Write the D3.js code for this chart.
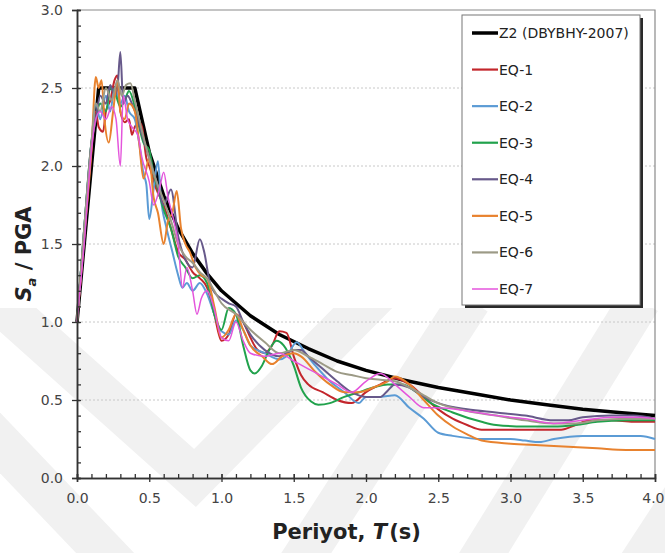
<!DOCTYPE html>
<html>
<head>
<meta charset="utf-8">
<script src="https://cdn.jsdelivr.net/npm/d3@7"></script>
<style>
  html, body { margin: 0; padding: 0; background: #fff; }
  svg { display: block; font-family: "DejaVu Sans", Verdana, sans-serif; }
</style>
</head>
<body>
<svg id="chart" width="665" height="553"></svg>
<script>
// Design spectrum Z2 (DBYBHY-2007), normalised by PGA
const z2T  = [0, 0.15, 0.40, 0.50, 0.60, 0.70, 0.80, 0.90, 1.00, 1.20, 1.40, 1.60, 1.80, 2.00, 2.25, 2.50, 2.75, 3.00, 3.25, 3.50, 3.75, 4.00];
const z2Sa = [1.00, 2.50, 2.50, 2.09, 1.81, 1.60, 1.44, 1.31, 1.20, 1.04, 0.92, 0.83, 0.75, 0.69, 0.63, 0.58, 0.54, 0.50, 0.47, 0.44, 0.42, 0.40];

// Scaled record spectra
const eq1T  = [0,0.05,0.1,0.13,0.15,0.18,0.2,0.23,0.26,0.28,0.3,0.33,0.36,0.38,0.4,0.43,0.45,0.48,0.5,0.55,0.6,0.65,0.7,0.75,0.8,0.85,0.9,0.95,1.0,1.05,1.1,1.15,1.2,1.25,1.3,1.35,1.4,1.45,1.5,1.55,1.6,1.7,1.8,1.9,2.0,2.1,2.2,2.3,2.4,2.5,2.6,2.7,2.8,3.0,3.2,3.35,3.45,3.55,3.7,3.85,4.0];
const eq1Sa = [1.0,1.55,2.1,2.35,2.25,2.22,2.35,2.42,2.55,2.58,2.35,2.28,2.3,2.2,2.25,2.28,2.25,2.05,2.0,1.85,1.75,1.6,1.45,1.4,1.32,1.28,1.22,1.05,0.88,0.92,1.05,1.0,0.9,0.82,0.8,0.85,0.94,0.93,0.78,0.66,0.6,0.55,0.5,0.48,0.55,0.6,0.64,0.6,0.52,0.44,0.38,0.34,0.31,0.31,0.31,0.31,0.34,0.37,0.37,0.36,0.36];

const eq2T  = [0,0.05,0.1,0.13,0.16,0.2,0.23,0.26,0.3,0.33,0.36,0.4,0.43,0.46,0.48,0.5,0.53,0.56,0.58,0.62,0.66,0.7,0.73,0.76,0.8,0.85,0.9,0.95,1.0,1.05,1.1,1.15,1.2,1.3,1.4,1.45,1.52,1.58,1.65,1.75,1.85,1.95,2.0,2.1,2.2,2.3,2.4,2.5,2.6,2.8,3.0,3.1,3.2,3.3,3.5,3.7,3.9,4.0];
const eq2Sa = [1.0,1.6,2.15,2.4,2.3,2.45,2.35,2.5,2.4,2.45,2.35,2.3,2.15,1.95,1.88,1.66,1.85,2.03,1.8,1.6,1.45,1.3,1.22,1.25,1.2,1.25,1.18,1.05,0.94,0.92,1.01,0.95,0.85,0.8,0.76,0.78,0.87,0.8,0.72,0.62,0.55,0.48,0.52,0.52,0.53,0.45,0.38,0.29,0.27,0.25,0.25,0.24,0.23,0.25,0.27,0.27,0.27,0.25];

const eq3T  = [0,0.05,0.1,0.13,0.16,0.2,0.23,0.27,0.3,0.33,0.36,0.4,0.43,0.46,0.5,0.53,0.56,0.6,0.65,0.7,0.75,0.8,0.85,0.9,0.95,1.0,1.05,1.1,1.15,1.2,1.23,1.28,1.33,1.38,1.43,1.5,1.55,1.62,1.67,1.75,1.85,1.95,2.05,2.15,2.25,2.35,2.45,2.6,2.8,2.9,3.1,3.3,3.45,3.6,3.8,4.0];
const eq3Sa = [1.0,1.6,2.15,2.3,2.4,2.35,2.5,2.45,2.38,2.42,2.48,2.38,2.25,2.15,2.1,1.95,1.85,1.72,1.6,1.42,1.35,1.28,1.3,1.25,1.05,0.95,1.09,1.05,0.85,0.69,0.67,0.72,0.82,0.88,0.85,0.72,0.58,0.49,0.47,0.48,0.52,0.55,0.58,0.6,0.6,0.55,0.48,0.42,0.36,0.34,0.33,0.33,0.34,0.36,0.37,0.37];

const eq4T  = [0,0.05,0.1,0.13,0.16,0.2,0.23,0.26,0.28,0.3,0.32,0.35,0.38,0.42,0.45,0.5,0.55,0.6,0.65,0.7,0.75,0.8,0.85,0.88,0.92,0.96,1.0,1.05,1.1,1.15,1.2,1.3,1.4,1.5,1.55,1.6,1.7,1.8,1.9,2.0,2.1,2.15,2.2,2.3,2.4,2.5,2.7,2.9,3.1,3.3,3.4,3.5,3.7,3.85,4.0];
const eq4Sa = [1.0,1.6,2.15,2.3,2.45,2.4,2.52,2.45,2.5,2.73,2.4,2.45,2.4,2.3,2.2,2.05,1.9,1.75,1.85,1.55,1.4,1.35,1.53,1.45,1.25,1.18,1.15,1.12,1.1,1.0,0.92,0.82,0.78,0.82,0.82,0.78,0.7,0.62,0.55,0.52,0.52,0.56,0.6,0.58,0.52,0.48,0.44,0.42,0.4,0.37,0.37,0.39,0.4,0.4,0.38];

const eq5T  = [0,0.05,0.1,0.13,0.15,0.17,0.19,0.22,0.25,0.28,0.3,0.33,0.36,0.4,0.43,0.46,0.5,0.53,0.56,0.6,0.63,0.66,0.69,0.72,0.75,0.78,0.82,0.86,0.9,0.95,1.0,1.05,1.1,1.15,1.2,1.28,1.35,1.42,1.5,1.55,1.65,1.75,1.85,1.95,2.05,2.15,2.2,2.3,2.4,2.5,2.6,2.7,2.8,3.0,3.2,3.4,3.6,3.8,4.0];
const eq5Sa = [1.0,1.55,2.1,2.57,2.5,2.55,2.3,2.15,2.35,2.55,2.35,2.3,2.4,2.35,2.15,1.92,2.05,1.8,1.7,1.5,1.65,1.7,1.84,1.6,1.5,1.45,1.35,1.3,1.28,1.1,0.9,0.95,1.05,0.95,0.85,0.78,0.73,0.78,0.8,0.78,0.68,0.6,0.55,0.55,0.58,0.62,0.65,0.6,0.5,0.4,0.33,0.28,0.24,0.22,0.21,0.2,0.19,0.18,0.18];

const eq6T  = [0,0.05,0.1,0.13,0.16,0.2,0.24,0.28,0.31,0.34,0.37,0.4,0.43,0.47,0.5,0.55,0.6,0.65,0.7,0.75,0.8,0.85,0.9,0.95,1.0,1.1,1.2,1.3,1.4,1.5,1.6,1.7,1.8,1.9,2.0,2.1,2.2,2.3,2.4,2.5,2.7,2.9,3.1,3.3,3.45,3.6,3.8,4.0];
const eq6Sa = [1.0,1.6,2.15,2.4,2.35,2.5,2.42,2.55,2.45,2.52,2.53,2.42,2.3,2.15,2.05,1.9,1.78,1.65,1.5,1.42,1.38,1.32,1.28,1.2,1.12,1.05,0.95,0.87,0.8,0.82,0.78,0.73,0.68,0.66,0.64,0.63,0.62,0.58,0.53,0.48,0.43,0.4,0.37,0.35,0.35,0.37,0.38,0.38];

const eq7T  = [0,0.05,0.1,0.13,0.16,0.2,0.24,0.27,0.3,0.32,0.35,0.38,0.42,0.45,0.5,0.53,0.57,0.6,0.63,0.67,0.7,0.73,0.76,0.8,0.83,0.86,0.9,0.95,1.0,1.05,1.1,1.15,1.2,1.3,1.4,1.5,1.6,1.7,1.8,1.9,2.0,2.1,2.2,2.3,2.4,2.5,2.7,2.9,3.1,3.3,3.5,3.7,3.9,4.0];
const eq7Sa = [1.0,1.5,2.1,2.3,2.35,2.3,2.38,2.3,2.0,2.45,2.3,2.25,2.2,2.05,1.9,1.75,1.85,1.96,1.8,1.65,1.5,1.22,1.35,1.2,1.05,1.15,1.2,1.08,0.9,0.88,1.0,0.88,0.8,0.78,0.8,0.75,0.7,0.65,0.6,0.55,0.62,0.67,0.6,0.52,0.45,0.45,0.43,0.4,0.38,0.35,0.37,0.39,0.39,0.38];

const seriesNames  = ["Z2 (DBYBHY-2007)", "EQ-1", "EQ-2", "EQ-3", "EQ-4", "EQ-5", "EQ-6", "EQ-7"];
const seriesColors = ["#000000", "#c3262c", "#5b9bd5", "#21a24c", "#67598a", "#e8822e", "#9c9a86", "#e455dc"];
const seriesWidths = [3.5, 2, 2, 2, 2, 2, 2, 1.5];
const seriesT  = [z2T, eq1T, eq2T, eq3T, eq4T, eq5T, eq6T, eq7T];
const seriesSa = [z2Sa, eq1Sa, eq2Sa, eq3Sa, eq4Sa, eq5Sa, eq6Sa, eq7Sa];

const xTicks = [0, 0.5, 1.0, 1.5, 2.0, 2.5, 3.0, 3.5, 4.0];
const yTicks = [0, 0.5, 1.0, 1.5, 2.0, 2.5, 3.0];
const xTitle = { a: "Periyot, ", b: "T", c: "(s)" };

const svg = d3.select("#chart");
const W = 665, H = 553;
const plot = { left: 77, right: 655, top: 10, bottom: 478 };

const x = d3.scaleLinear().domain([0, 4]).range([plot.left, plot.right]);
const y = d3.scaleLinear().domain([0, 3]).range([plot.bottom, plot.top]);

// Faint chevron watermark in the background
svg.append("defs").append("clipPath").attr("id", "wmclip")
  .append("rect").attr("x", 0).attr("y", 308).attr("width", W).attr("height", H - 308);
const wm = svg.append("g").attr("clip-path", "url(#wmclip)");
const chevrons = [
  [[-60, 250], [195, 478], [420, 250]],
  [[-60, 380], [150, 600]],
  [[250, 640], [470, 300]],
  [[430, 640], [640, 300]],
  [[590, 640], [760, 380]]
];
chevrons.forEach(pts => {
  wm.append("path")
    .attr("d", d3.line()(pts))
    .attr("fill", "none")
    .attr("stroke", "#f1f1f1")
    .attr("stroke-width", 42)
    .attr("stroke-linejoin", "miter");
});

// Horizontal grid lines
svg.append("g")
  .selectAll("line")
  .data(yTicks.filter(v => v > 0 && v < 3))
  .join("line")
  .attr("x1", plot.left).attr("x2", plot.right)
  .attr("y1", d => y(d)).attr("y2", d => y(d))
  .attr("stroke", "#c8c8c8")
  .attr("stroke-width", 1)
  .attr("stroke-dasharray", "2,2");

// Plot frame (top and right edges)
svg.append("path")
  .attr("d", `M${plot.left},${plot.top}H${plot.right}V${plot.bottom}`)
  .attr("fill", "none")
  .attr("stroke", "#8a8a8a")
  .attr("stroke-width", 1.2);

// Curves: design spectrum first, records drawn over it
const smooth = d3.line().x(d => x(d[0])).y(d => y(d[1])).curve(d3.curveMonotoneX);
const straight = d3.line().x(d => x(d[0])).y(d => y(d[1]));
const curves = svg.append("g");
seriesNames.forEach((name, i) => {
  const pts = seriesT[i].map((t, k) => [t, seriesSa[i][k]]);
  curves.append("path")
    .attr("d", i === 0 ? straight(pts) : smooth(pts))
    .attr("fill", "none")
    .attr("stroke", seriesColors[i])
    .attr("stroke-width", seriesWidths[i])
    .attr("stroke-linejoin", "round");
});

// Axes: minor ticks inside, major ticks crossing
const tickColor = "#333";
function styleAxis(g) {
  g.select(".domain").attr("stroke", tickColor).attr("stroke-width", 1.5);
  g.selectAll(".tick line").attr("stroke", tickColor).attr("stroke-width", 1.3);
  g.selectAll(".tick text").attr("fill", "#444").attr("font-size", 14)
    .attr("font-family", "'DejaVu Sans', Verdana, sans-serif");
}
const yMinor = svg.append("g").attr("transform", `translate(${plot.left},0)`)
  .call(d3.axisLeft(y).tickValues(d3.range(0, 31).map(v => v / 10)).tickSize(-4).tickFormat(""));
styleAxis(yMinor);
const yMajor = svg.append("g").attr("transform", `translate(${plot.left},0)`)
  .call(d3.axisLeft(y).tickValues(yTicks).tickSize(5).tickPadding(9).tickFormat(d3.format(".1f")));
styleAxis(yMajor);

const xMinor = svg.append("g").attr("transform", `translate(0,${plot.bottom})`)
  .call(d3.axisBottom(x).tickValues(d3.range(0, 41).map(v => v / 10)).tickSize(-4).tickFormat(""));
styleAxis(xMinor);
const xMajor = svg.append("g").attr("transform", `translate(0,${plot.bottom})`)
  .call(d3.axisBottom(x).tickValues(xTicks).tickSize(4).tickPadding(11).tickFormat(d3.format(".1f")));
styleAxis(xMajor);
xMajor.selectAll(".tick line").attr("y1", -4);
yMajor.selectAll(".tick line").attr("x2", -5).attr("x1", 3);
// last x label sits at the page edge: keep it fully inside
xMajor.selectAll(".tick text").filter(d => d === 4)
  .attr("text-anchor", "end").attr("x", W - plot.right - 1);

// Axis titles
const xt = svg.append("text")
  .attr("x", (271 + 422) / 2).attr("y", 539)
  .attr("text-anchor", "middle")
  .attr("font-size", 21).attr("font-weight", "bold").attr("fill", "#222");
xt.append("tspan").text(xTitle.a);
xt.append("tspan").attr("font-style", "italic").text(xTitle.b);
xt.append("tspan").attr("dx", 2).text(xTitle.c);

const yt = svg.append("text")
  .attr("transform", "translate(31,254) rotate(-90)")
  .attr("text-anchor", "middle")
  .attr("font-size", 21).attr("font-weight", "bold").attr("fill", "#222");
yt.append("tspan").attr("font-style", "italic").text("S");
yt.append("tspan").attr("font-style", "italic").attr("font-size", 13).attr("dy", 5).text("a");
yt.append("tspan").attr("dy", -5).text(" / PGA");

// Legend
const lg = { x: 462, y: 15, w: 178, h: 290 };
const legend = svg.append("g");
legend.append("rect")
  .attr("x", lg.x + 3).attr("y", lg.y + 3).attr("width", lg.w).attr("height", lg.h)
  .attr("fill", "#2a2a2a");
legend.append("rect")
  .attr("x", lg.x).attr("y", lg.y).attr("width", lg.w).attr("height", lg.h)
  .attr("fill", "#fff").attr("stroke", "#777").attr("stroke-width", 1);
const rowY = d3.scalePoint().domain(seriesNames).range([33, 289]);
const rows = legend.selectAll("g.row").data(seriesNames).join("g").attr("class", "row")
  .attr("transform", d => `translate(0,${rowY(d)})`);
rows.append("line")
  .attr("x1", 472).attr("x2", 498)
  .attr("stroke", (d, i) => seriesColors[i])
  .attr("stroke-width", (d, i) => i === 0 ? 3.5 : (i === 7 ? 1.5 : 2.2));
rows.append("text")
  .attr("x", 499).attr("dy", "0.36em")
  .attr("font-size", 14).attr("fill", "#222")
  .text(d => d);
</script>
</body>
</html>
